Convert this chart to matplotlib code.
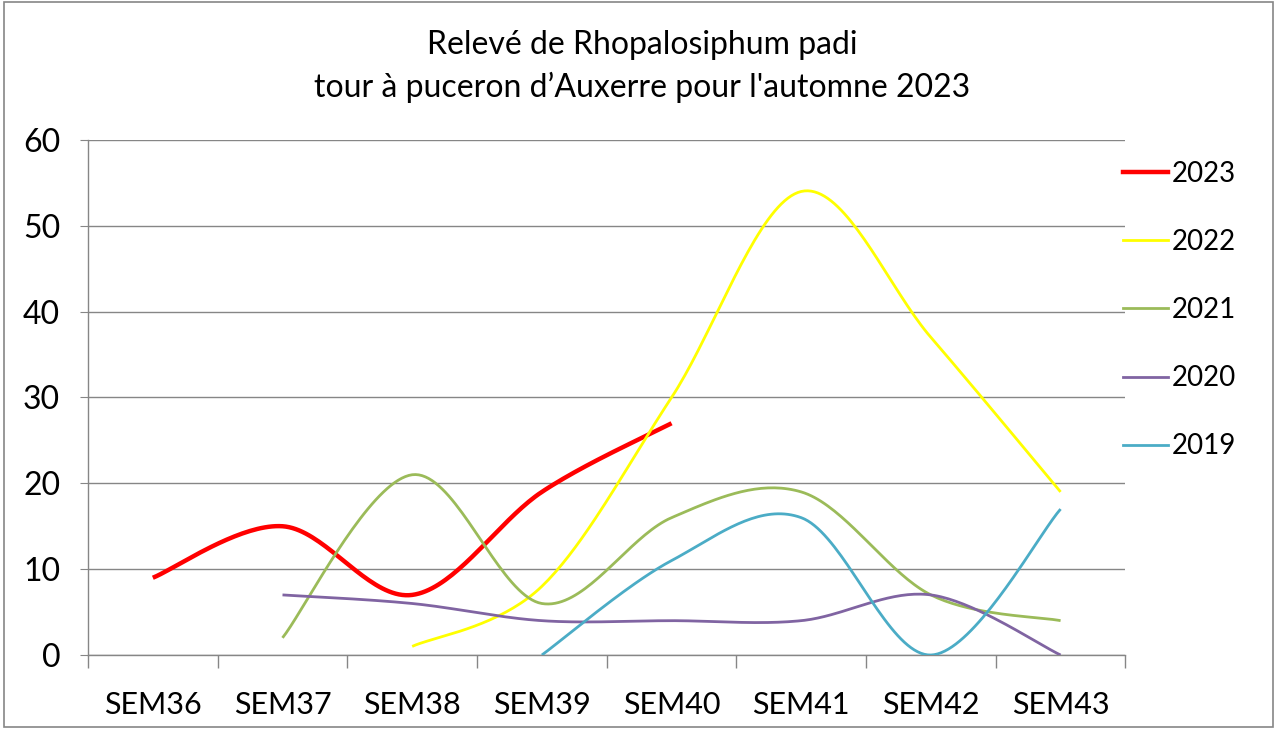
import numpy as np
import matplotlib
matplotlib.use("Agg")
import matplotlib.pyplot as plt
from matplotlib.lines import Line2D

plt.rcParams['font.family'] = ['Lato', 'DejaVu Sans']

weeks = ["SEM36", "SEM37", "SEM38", "SEM39", "SEM40", "SEM41", "SEM42", "SEM43"]
s2023 = [9, 15, 7, 19, 27, None, None, None]
s2022 = [None, None, 1, 8, 30, 54, 37, 19]
s2021 = [None, 2, 21, 6, 16, 19, 7, 4]
s2020 = [None, 7, 6, 4, 4, 4, 7, 0]
s2019 = [None, None, None, 0, 11, 16, 0, 17]

series = [("2023", s2023, "#FF0000", 3.2),
          ("2022", s2022, "#FFFF00", 2.0),
          ("2021", s2021, "#9BBB59", 2.0),
          ("2020", s2020, "#8064A2", 2.0),
          ("2019", s2019, "#4BACC6", 2.0)]


def smooth(xs, ys, n=40):
    xs = np.asarray(xs, float)
    ys = np.asarray(ys, float)
    P = np.column_stack([xs, ys])
    out = [P[0]]
    for i in range(len(P) - 1):
        p0 = P[i - 1] if i > 0 else P[i]
        p1 = P[i]
        p2 = P[i + 1]
        p3 = P[i + 2] if i + 2 < len(P) else P[i + 1]
        c1 = p1 + (p2 - p0) / 6.0
        c2 = p2 - (p3 - p1) / 6.0
        t = np.linspace(0, 1, n)[1:, None]
        seg = ((1 - t) ** 3) * p1 + 3 * ((1 - t) ** 2) * t * c1 + 3 * (1 - t) * t ** 2 * c2 + t ** 3 * p2
        out.extend(seg)
    out = np.array(out)
    return out[:, 0], out[:, 1]


fig = plt.figure(figsize=(12.77, 7.29), dpi=100)
ax = fig.add_axes([0.0689, 0.1015, 0.8124, 0.7065])

x = np.arange(len(weeks))
handles = []
for name, vals, col, lw in series:
    xs = [xi for xi, v in zip(x, vals) if v is not None]
    ys = [v for v in vals if v is not None]
    sx, sy = smooth(xs, ys)
    ax.plot(sx, sy, color=col, lw=lw, solid_capstyle='butt', zorder=3)
    handles.append(Line2D([0], [0], color=col, lw=lw))

ax.set_xlim(-0.5, len(weeks) - 0.5)
ax.set_ylim(0, 60)
ax.set_yticks(range(0, 61, 10))
ax.set_xticks(x)
ax.set_xticklabels(weeks)
ax.set_xticks(np.arange(-0.5, len(weeks), 1), minor=True)
ax.tick_params(axis='x', which='major', length=0, pad=26, labelsize=22)
ax.tick_params(axis='x', which='minor', length=9, color='#868686', width=1)
ax.tick_params(axis='y', length=6, color='#868686', labelsize=23, pad=14)
ax.yaxis.grid(True, color='#868686', lw=1)
ax.set_axisbelow(True)
for s in ['top', 'right']:
    ax.spines[s].set_visible(False)
for s in ['left', 'bottom']:
    ax.spines[s].set_color('#868686')
    ax.spines[s].set_linewidth(1)

fig.text(0.503, 0.938, "Relevé de Rhopalosiphum padi", ha='center', va='center', fontsize=23)
fig.text(0.503, 0.880, "tour à puceron d’Auxerre pour l'automne 2023", ha='center', va='center', fontsize=23)

leg = fig.legend(handles, [s[0] for s in series], loc='upper left',
                 bbox_to_anchor=(0.860, 0.814), frameon=False, fontsize=20,
                 handlelength=1.6, handletextpad=0.15, labelspacing=1.52)

fig.patches.append(plt.Rectangle((0.003, 0.003), 0.994, 0.994, transform=fig.transFigure,
                                 fill=False, edgecolor='#868686', lw=1.2))

fig.savefig("out.png", dpi=100)
